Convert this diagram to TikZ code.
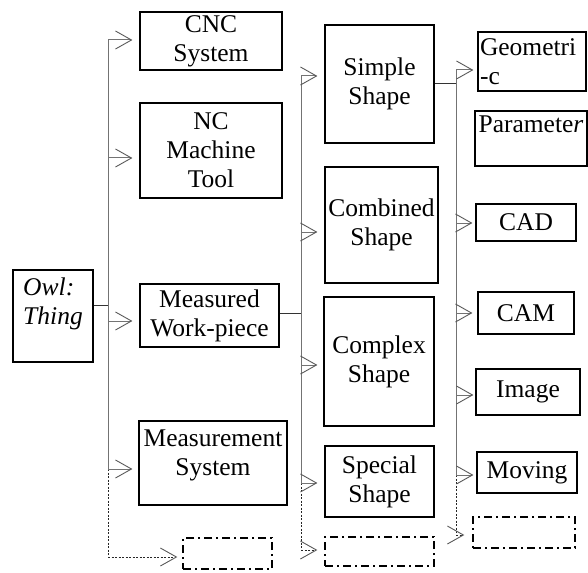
\documentclass[tikz,border=0pt]{standalone}
\usepackage{fontspec}
\setmainfont{Liberation Serif}
\usetikzlibrary{arrows.meta}
\tikzset{
  box/.style={draw=black, line width=1.2pt, inner sep=1pt, align=center,
    font=\fontsize{25.5}{29}\selectfont},
  spare/.style={draw=black, line width=1.4pt,
    dash pattern=on 8pt off 4pt on 2pt off 4pt},
  trunk/.style={draw=black!55, line width=1pt},
  link/.style={draw=black!80, line width=1pt},
  arr/.style={draw=black!55, line width=1pt,
    -{Straight Barb[length=16pt,width=18pt,line width=0.9pt,color=black!65]}},
  weak/.style={dash pattern=on 2pt off 1.5pt, draw=black!85},
}
\begin{document}
\begin{tikzpicture}[x=1pt,y=-1pt]
\useasboundingbox (0,0) rectangle (588,572);

% root class
\node[box, align=left, minimum width=80pt, minimum height=92pt] (owl) at (53,316)
  {\itshape Owl:\\\itshape Thing\\\mbox{}};

% first level
\node[box, minimum width=142pt, minimum height=58pt] (cnc) at (211,41) {CNC\\System};
\node[box, minimum width=142pt, minimum height=95pt] (nc) at (211,150.5) {NC\\Machine\\Tool};
\node[box, minimum width=139pt, minimum height=63pt] (mw) at (209.5,315.5) {Measured\\Work-piece};
\node[box, minimum width=148pt, minimum height=84pt] (ms) at (213,463) {Measurement\\System\\[-8pt]};
\node[spare, minimum width=89pt, minimum height=31pt] (sp1) at (227.5,553.5) {};

% second level
\node[box, minimum width=109pt, minimum height=118pt] (simple) at (379.5,84) {Simple\\Shape};
\node[box, minimum width=113pt, minimum height=116pt] (comb) at (381.5,225) {Combined\\Shape};
\node[box, minimum width=110pt, minimum height=129pt] (cplx) at (379,361.5) {Complex\\Shape};
\node[box, minimum width=109pt, minimum height=71pt] (spec) at (379.5,481.5) {Special\\Shape};
\node[spare, minimum width=109pt, minimum height=29pt] (sp2) at (379.5,551.5) {};

% third level
\node[box, align=left, text width=104pt, inner sep=2pt, minimum height=59pt] (geo) at (532,61.5) {Geometri\\-c};
\node[box, minimum width=112pt, minimum height=55pt] (par) at (531,138.5) {Paramete\textit{r}\\\mbox{}};
\node[box, minimum width=100pt, minimum height=37pt] (cad) at (526,222.5) {CAD};
\node[box, minimum width=96pt, minimum height=42pt] (cam) at (526,313) {CAM};
\node[box, minimum width=104pt, minimum height=46pt] (img) at (528,392) {Image};
\node[box, minimum width=100pt, minimum height=41pt] (mov) at (527,472.5) {Moving};
\node[spare, minimum width=102pt, minimum height=31pt] (sp3) at (524,532.5) {};

% trunk from the root
\coordinate (j1) at (108,305);
\coordinate (a1) at (108,40);
\coordinate (a2) at (108,158);
\coordinate (a3) at (108,321);
\coordinate (a4) at (108,469);
\coordinate (a5) at (108,557);
\draw[link] (owl.east |- j1) -- (j1);
\draw[trunk] (a1) -- (a4);
\draw[trunk, weak] (a4) -- (a5);
\draw[arr, shorten >=7pt] (a1) -- (a1 -| cnc.west);
\draw[arr, shorten >=7pt] (a2) -- (a2 -| nc.west);
\draw[arr, shorten >=7pt] (a3) -- (a3 -| mw.west);
\draw[arr, shorten >=6pt] (a4) -- (a4 -| ms.west);
\draw[arr, weak, shorten >=5pt] (a5) -- (a5 -| sp1.west);

% trunk from the measured work-piece
\coordinate (j2) at (301,313);
\coordinate (b1) at (301,76);
\coordinate (b2) at (301,232);
\coordinate (b3) at (301,365);
\coordinate (b4) at (301,483);
\coordinate (b5) at (301,550);
\draw[link] (mw.east |- j2) -- (j2);
\draw[trunk] (b1) -- (b4);
\draw[trunk, weak] (b4) -- (b5);
\draw[arr, shorten >=7pt] (b1) -- (b1 -| simple.west);
\draw[arr, shorten >=7pt] (b2) -- (b2 -| comb.west);
\draw[arr, shorten >=6pt] (b3) -- (b3 -| cplx.west);
\draw[arr, shorten >=7pt] (b4) -- (b4 -| spec.west);
\draw[arr, weak, shorten >=7pt] (b5) -- (b5 -| sp2.west);

% trunk from the simple shape
\coordinate (j3) at (456,84);
\coordinate (c1) at (456,70);
\coordinate (c2) at (456,223);
\coordinate (c3) at (456,313);
\coordinate (c4) at (456,395);
\coordinate (c5) at (456,475);
\coordinate (c6) at (456,535);
\draw[link] (simple.east |- j3) -- (j3);
\draw[trunk] (c1) -- (c5);
\draw[trunk, weak] (c5) -- (c6);
\draw[arr, shorten >=4pt] (c1) -- (c1 -| geo.west);
\draw[arr, shorten >=3pt] (c2) -- (c2 -| cad.west);
\draw[arr, shorten >=5pt] (c3) -- (c3 -| cam.west);
\draw[arr, shorten >=2pt] (c4) -- (c4 -| img.west);
\draw[arr, shorten >=3pt] (c5) -- (c5 -| mov.west);
\draw[arr, weak, shorten >=8pt] (c6) -- (c6 -| sp3.west);
\end{tikzpicture}
\end{document}
